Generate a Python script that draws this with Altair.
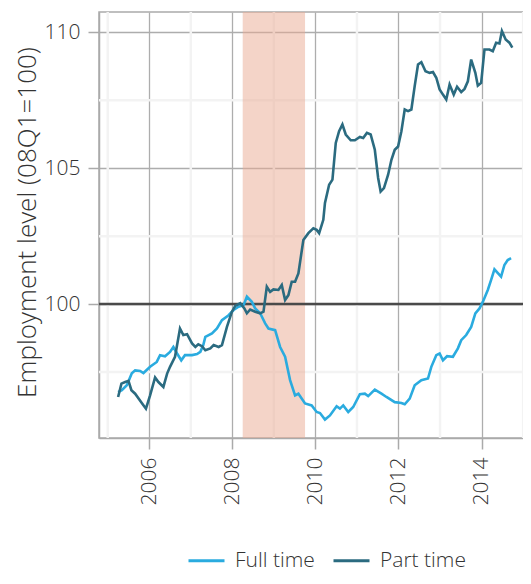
import altair as alt
import pandas as pd

# ---- data ----
series = ["Full time", "Part time"]
colors = ["#2aabdf", "#2b6b80"]

ft_year = [2005.25, 2005.34, 2005.46, 2005.58, 2005.66, 2005.78, 2005.86, 2006.02, 2006.18, 2006.26,
           2006.38, 2006.50, 2006.58, 2006.67, 2006.77, 2006.86, 2007.03, 2007.15, 2007.23, 2007.30,
           2007.35, 2007.51, 2007.63, 2007.75, 2007.91, 2008.03, 2008.15, 2008.27, 2008.35, 2008.47,
           2008.55, 2008.67, 2008.79, 2008.87, 2009.03, 2009.15, 2009.27, 2009.39, 2009.51, 2009.59,
           2009.75, 2009.91, 2010.03, 2010.11, 2010.23, 2010.35, 2010.51, 2010.59, 2010.67, 2010.79,
           2010.91, 2011.07, 2011.19, 2011.27, 2011.43, 2011.59, 2011.71, 2011.91, 2012.07, 2012.15,
           2012.27, 2012.39, 2012.55, 2012.71, 2012.79, 2012.91, 2012.99, 2013.07, 2013.17, 2013.31,
           2013.43, 2013.51, 2013.63, 2013.75, 2013.85, 2013.95, 2014.03, 2014.15, 2014.23, 2014.31,
           2014.47, 2014.55, 2014.63, 2014.71]
ft_value = [96.76, 96.83, 97.01, 97.45, 97.56, 97.54, 97.46, 97.69, 97.87, 98.12,
            98.08, 98.24, 98.42, 98.18, 97.93, 98.12, 98.12, 98.16, 98.24, 98.49,
            98.79, 98.92, 99.10, 99.41, 99.59, 99.78, 99.90, 99.96, 100.27, 100.08,
            99.84, 99.66, 99.29, 99.10, 99.04, 98.42, 98.06, 97.20, 96.64, 96.70,
            96.34, 96.27, 96.03, 95.99, 95.75, 95.90, 96.24, 96.15, 96.27, 96.03,
            96.21, 96.68, 96.70, 96.61, 96.85, 96.70, 96.58, 96.39, 96.36, 96.31,
            96.52, 97.01, 97.20, 97.26, 97.69, 98.12, 98.18, 97.93, 98.08, 98.06,
            98.37, 98.67, 98.86, 99.16, 99.66, 99.84, 100.08, 100.52, 100.89, 101.28,
            101.01, 101.44, 101.62, 101.69]

pt_year = [2005.25, 2005.33, 2005.42, 2005.50, 2005.57, 2005.66, 2005.82, 2005.92, 2006.02, 2006.14,
           2006.22, 2006.34, 2006.43, 2006.50, 2006.62, 2006.74, 2006.82, 2006.91, 2007.03, 2007.11,
           2007.18, 2007.27, 2007.35, 2007.47, 2007.55, 2007.67, 2007.75, 2007.87, 2007.99, 2008.07,
           2008.19, 2008.29, 2008.35, 2008.43, 2008.55, 2008.67, 2008.75, 2008.83, 2008.91, 2008.99,
           2009.11, 2009.19, 2009.27, 2009.35, 2009.43, 2009.51, 2009.59, 2009.71, 2009.83, 2009.95,
           2010.03, 2010.09, 2010.19, 2010.23, 2010.33, 2010.41, 2010.49, 2010.57, 2010.65, 2010.73,
           2010.85, 2010.95, 2011.07, 2011.15, 2011.24, 2011.33, 2011.43, 2011.51, 2011.57, 2011.65,
           2011.75, 2011.83, 2011.91, 2011.99, 2012.07, 2012.15, 2012.23, 2012.31, 2012.39, 2012.47,
           2012.55, 2012.65, 2012.75, 2012.83, 2012.91, 2012.99, 2013.07, 2013.15, 2013.23, 2013.33,
           2013.41, 2013.51, 2013.59, 2013.67, 2013.75, 2013.85, 2013.91, 2013.99, 2014.07, 2014.19,
           2014.27, 2014.35, 2014.43, 2014.49, 2014.58, 2014.67, 2014.74]
pt_value = [96.58, 97.07, 97.13, 97.17, 96.83, 96.70, 96.36, 96.15, 96.64, 97.30,
            97.13, 96.95, 97.44, 97.69, 98.06, 99.10, 98.86, 98.89, 98.55, 98.42,
            98.52, 98.45, 98.30, 98.37, 98.49, 98.42, 98.49, 99.16, 99.72, 99.93,
            100.03, 99.84, 99.66, 99.80, 99.72, 99.66, 99.72, 100.64, 100.45, 100.54,
            100.52, 100.70, 100.15, 100.33, 100.82, 100.82, 101.13, 102.36, 102.61, 102.79,
            102.73, 102.61, 103.10, 103.72, 104.39, 104.58, 105.93, 106.36, 106.61, 106.24,
            106.03, 106.03, 106.15, 106.11, 106.30, 106.24, 105.68, 104.64, 104.14, 104.27,
            104.76, 105.31, 105.68, 105.80, 106.36, 107.16, 107.10, 107.16, 108.02, 108.82,
            108.90, 108.57, 108.51, 108.54, 108.33, 107.90, 107.71, 107.53, 108.08, 107.71,
            108.00, 107.80, 107.92, 108.20, 109.00, 108.51, 108.04, 108.14, 109.37, 109.37,
            109.31, 109.62, 109.59, 110.05, 109.74, 109.62, 109.44]

recession_start = [2008.25]
recession_end = [2009.75]
baseline = [100]

x_ticks = [2006, 2008, 2010, 2012, 2014]
y_ticks = [100, 105, 110]
x_minor = [2005, 2007, 2009, 2011, 2013, 2015]
y_minor = [97.5, 102.5, 107.5]

# ---- tables ----
df = pd.concat([
    pd.DataFrame({"year": ft_year, "value": ft_value, "series": series[0]}),
    pd.DataFrame({"year": pt_year, "value": pt_value, "series": series[1]}),
])

xscale = alt.Scale(domain=[2004.79, 2015.19], nice=False, zero=False)
yscale = alt.Scale(domain=[95.07, 110.75], nice=False, zero=False)

x_axis = alt.Axis(values=x_ticks, format="d", labelAngle=270, title=None)
y_axis = alt.Axis(values=y_ticks, format="d", title="Employment level (08Q1=100)",
                  titleX=-72, titleY=210, titleBaseline="middle")

minor_v = alt.Chart(pd.DataFrame({"x": x_minor})).mark_rule(
    color="#f3f3f3", strokeWidth=2.5).encode(
    x=alt.X("x:Q", scale=xscale, axis=x_axis))
minor_h = alt.Chart(pd.DataFrame({"y": y_minor})).mark_rule(
    color="#f3f3f3", strokeWidth=2.5).encode(
    y=alt.Y("y:Q", scale=yscale, axis=y_axis))

rect = alt.Chart(pd.DataFrame({"s": recession_start, "e": recession_end})).mark_rect(
    color="#e9a991", opacity=0.5).encode(
    x=alt.X("s:Q", scale=xscale, axis=x_axis), x2="e:Q")

hline = alt.Chart(pd.DataFrame({"y": baseline})).mark_rule(
    color="#4a4a4a", strokeWidth=2.4).encode(
    y=alt.Y("y:Q", scale=yscale, axis=y_axis))

lines = alt.Chart(df).mark_line(strokeWidth=2.6).encode(
    x=alt.X("year:Q", scale=xscale, axis=x_axis),
    y=alt.Y("value:Q", scale=yscale, axis=y_axis),
    color=alt.Color("series:N", scale=alt.Scale(domain=series, range=colors),
                    legend=alt.Legend(title=None, orient="none", direction="horizontal",
                                      legendX=88, legendY=529,
                                      symbolType="stroke", symbolSize=1296,
                                      symbolStrokeWidth=3, labelFontSize=21,
                                      labelFont="Open Sans", labelFontWeight=300,
                                      labelColor="#333", labelOffset=9,
                                      columnPadding=12)),
    detail="series:N",
)

chart = alt.layer(minor_v, minor_h, rect, hline, lines).properties(
    width=432, height=426,
    autosize=alt.AutoSizeParams(type="none"),
    padding={"left": 91, "top": 4, "right": -8, "bottom": 138},
).configure_view(
    stroke="#aaaaaa", strokeWidth=1.5
).configure_axis(
    labelFont="Open Sans", labelFontSize=21, labelFontWeight=300, labelColor="#333",
    titleFont="Open Sans", titleFontSize=26, titleFontWeight=300, titleColor="#333",
    tickColor="#aaaaaa", tickSize=11, tickWidth=1.5,
    domainColor="#aaaaaa", domainWidth=1.5,
    gridColor="#adadad", gridWidth=1.3, grid=True,
    labelPadding=8,
)

chart.save("out.html", embed_options={"renderer": "svg", "actions": False})
